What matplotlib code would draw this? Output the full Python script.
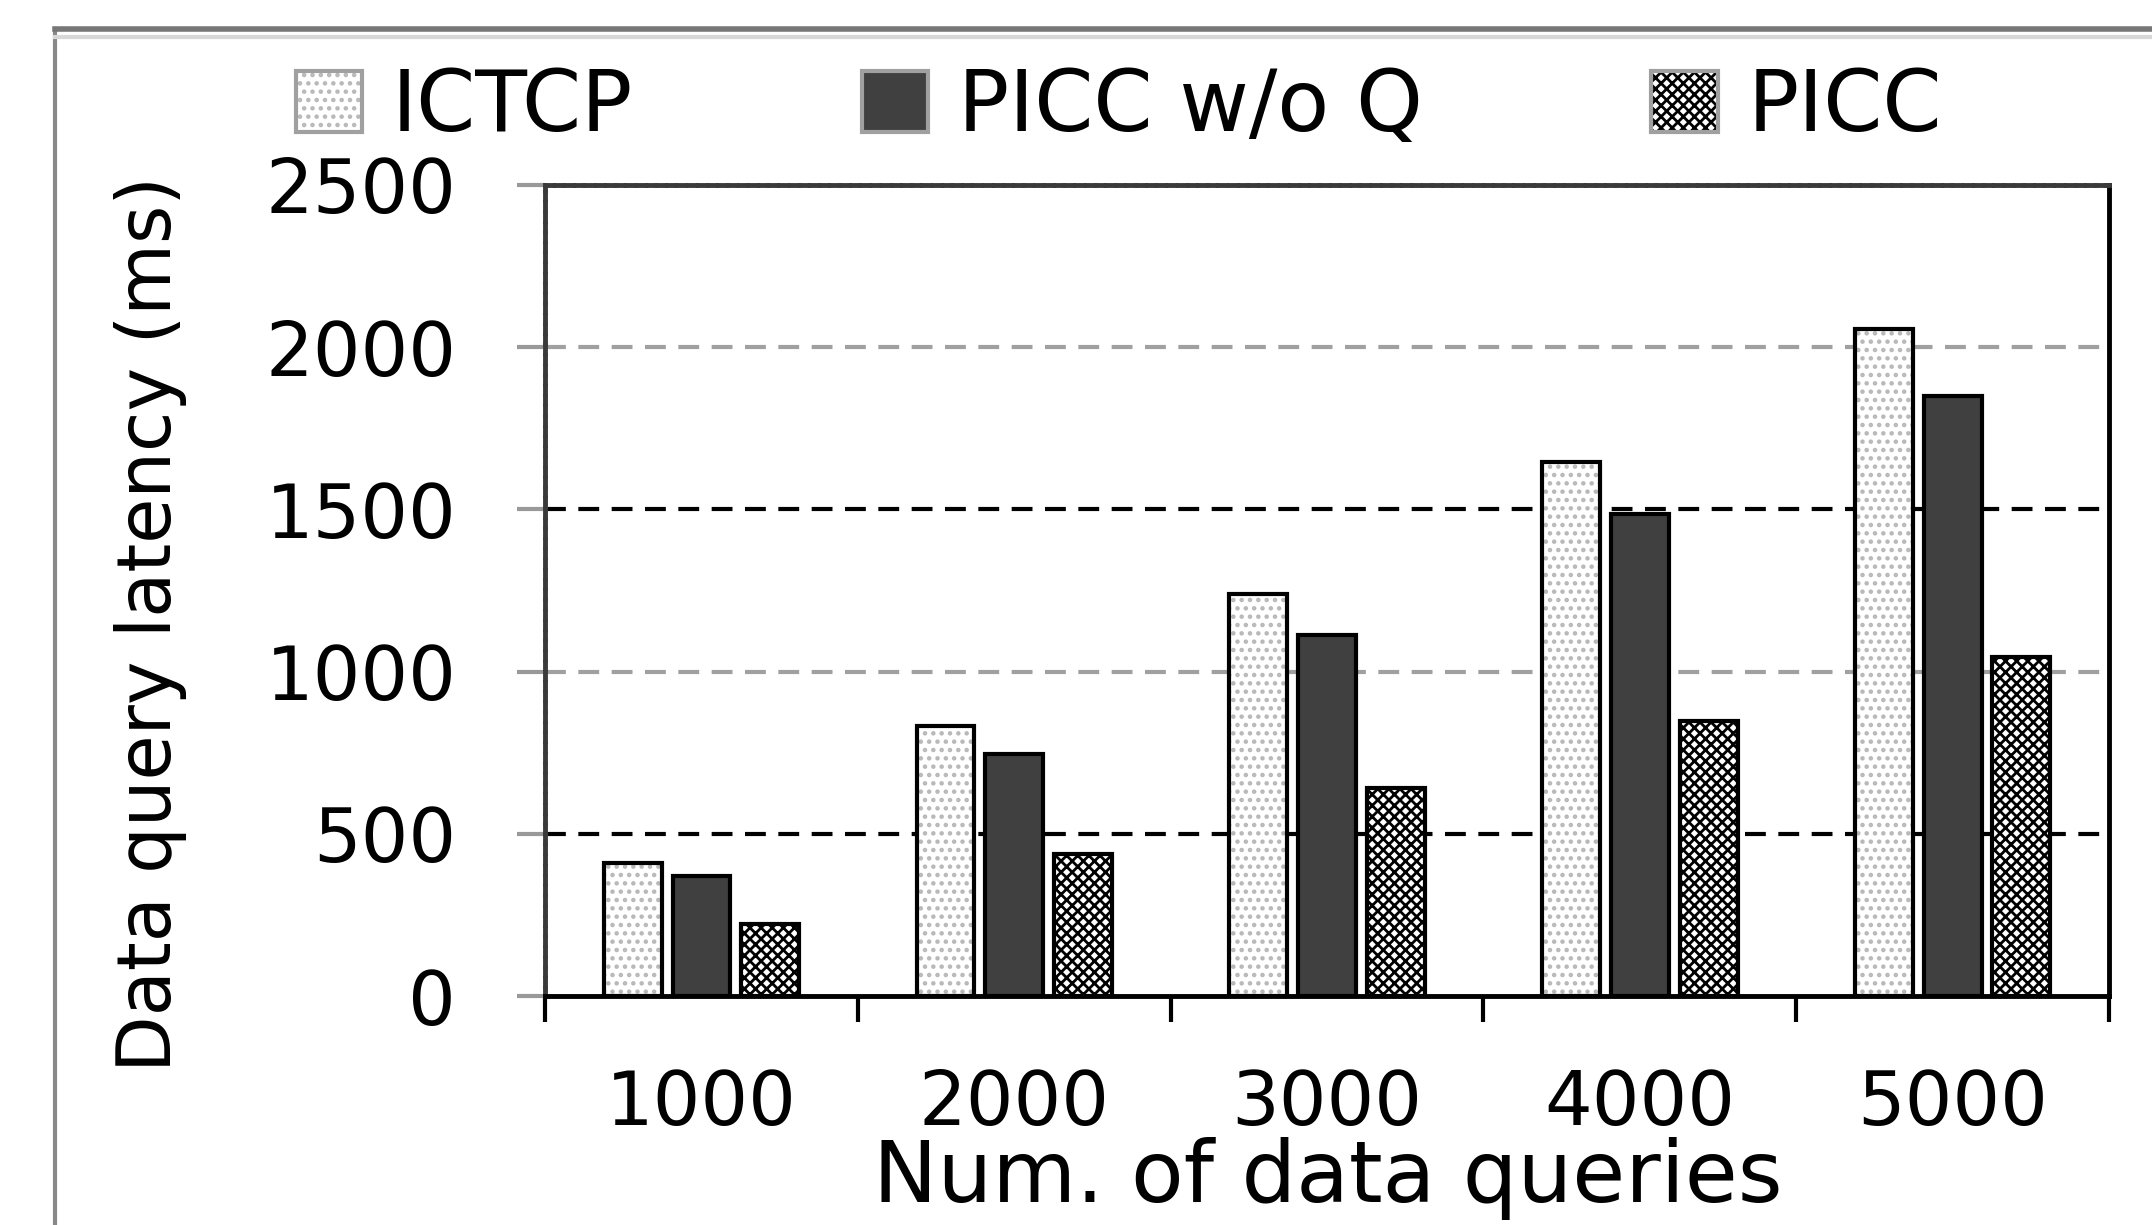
import numpy as np
import matplotlib.pyplot as plt
from matplotlib.patches import Patch
from matplotlib.lines import Line2D

# values
queries = ['1000', '2000', '3000', '4000', '5000']
ictcp = [410, 832, 1240, 1645, 2057]
picc_noq = [370, 746, 1113, 1486, 1851]
picc = [222, 438, 640, 847, 1045]
yticks = [0, 500, 1000, 1500, 2000, 2500]

plt.rcParams['font.family'] = ['DejaVu Sans']
plt.rcParams['hatch.linewidth'] = 2.0

fig = plt.figure(figsize=(21.52, 12.25), dpi=100)
ax = fig.add_axes([0.2533, 0.1869, 0.7267, 0.6621])

x = np.arange(len(queries))
w = 0.185
off = 0.22

# grid lines: black at 500/1500, gray at 1000/2000
for v in yticks[1:-1]:
    col = 'black' if v % 1000 else '#a0a0a0'
    ax.axhline(v, color=col, lw=3, ls=(0, (5, 3)), zorder=1)

# ICTCP: white with gray dots
ax.bar(x - off, ictcp, w, color='white', edgecolor='#b8b8b8', hatch='..', lw=0, zorder=2)
ax.bar(x - off, ictcp, w, fill=False, edgecolor='black', lw=3, zorder=3)
# PICC w/o Q: dark solid
ax.bar(x, picc_noq, w, color='#404040', edgecolor='black', lw=3, zorder=3)
# PICC: checker
ax.bar(x + off, picc, w, color='white', edgecolor='black', hatch='xxx', lw=0, zorder=2)
ax.bar(x + off, picc, w, fill=False, edgecolor='black', lw=3, zorder=3)

ax.set_xlim(-0.5, len(queries) - 0.5)
ax.set_ylim(0, 2500)
ax.set_yticks(yticks)
ax.set_yticklabels([str(v) for v in yticks], fontsize=54)
ax.tick_params(axis='y', direction='out', length=20, width=3, color='#999999', pad=44)

ax.set_xticks(x)
ax.set_xticklabels(queries, fontsize=54)
ax.tick_params(axis='x', which='major', length=0, pad=52)
ax.set_xticks(np.arange(len(queries) + 1) - 0.5, minor=True)
ax.tick_params(axis='x', which='minor', direction='out', length=19, width=3, color='black')

ax.spines['bottom'].set_linewidth(3.5)
ax.spines['bottom'].set_color('black')
ax.spines['right'].set_linewidth(3.5)
ax.spines['right'].set_color('black')
for s in ['left', 'top']:
    ax.spines[s].set_linewidth(3.5)
    ax.spines[s].set_color('#3a3a3a')
    ax.spines[s].set_linestyle((0, (1.5, 0.6)))

fig.text(0.070, 0.4906, 'Data query latency (ms)', rotation=90, fontsize=53,
         ha='center', va='center')
fig.text(0.617, 0.038, 'Num. of data queries', fontsize=62, ha='center', va='center')

# legend handles: hatch layer + gray outline layer
outline = dict(fill=False, edgecolor='#a0a0a0', lw=3)
handles = [
    (Patch(facecolor='white', edgecolor='#b8b8b8', hatch='..', lw=0), Patch(**outline)),
    (Patch(facecolor='#404040', lw=0), Patch(**outline)),
    (Patch(facecolor='white', edgecolor='black', hatch='xxx', lw=0), Patch(**outline)),
]
fig.legend(handles, ['ICTCP', 'PICC w/o Q', 'PICC'], loc='center',
           bbox_to_anchor=(0.52, 0.912), ncol=3, frameon=False, fontsize=61,
           handlelength=0.78, handleheight=0.72, handletextpad=0.35,
           columnspacing=2.7)

# outer frame of the original figure
fig.add_artist(Line2D([0.0256, 0.0256], [0, 0.976], transform=fig.transFigure,
                      color='#888888', lw=3))
fig.add_artist(Line2D([0.0256, 1.0], [0.976, 0.976], transform=fig.transFigure,
                      color='#777777', lw=4))
fig.add_artist(Line2D([0.0256, 1.0], [0.970, 0.970], transform=fig.transFigure,
                      color='#d8d8d8', lw=3))

fig.savefig('out.png', dpi=100)
